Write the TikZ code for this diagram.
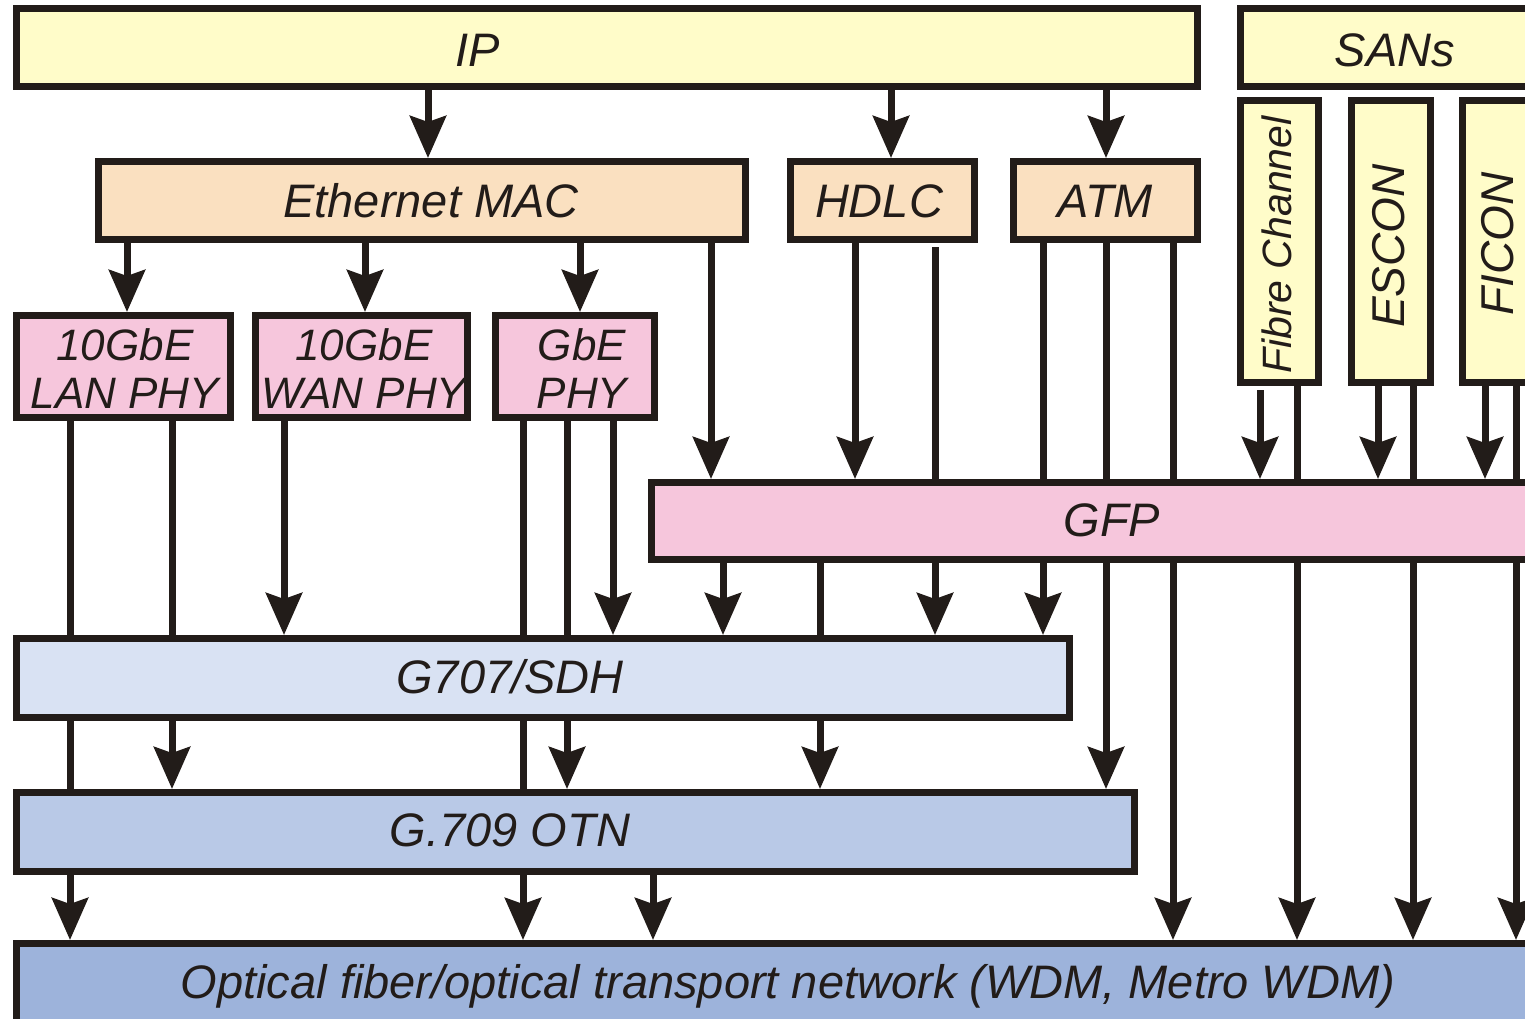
\documentclass[tikz,border=0pt]{standalone}
\usepackage{fontspec}
\setmainfont{Liberation Sans}
\usetikzlibrary{arrows.meta,backgrounds}
\definecolor{lc}{RGB}{34,28,25}
\definecolor{cyel}{RGB}{255,252,201}
\definecolor{cpeach}{RGB}{250,224,192}
\definecolor{cpink}{RGB}{246,198,220}
\definecolor{csdh}{RGB}{217,226,243}
\definecolor{cotn}{RGB}{185,201,231}
\definecolor{copt}{RGB}{157,179,219}
\newcommand\linkv[4]{\draw[#1] (#2.south -| #4,0) -- (#3.north -| #4,0);}
\begin{document}
\begin{tikzpicture}[x=0.5pt,y=-0.5pt,
  box/.style={draw=lc,line width=3.5pt,inner sep=0pt},
  lbl/.style={font=\fontsize{23.5}{24}\selectfont\itshape,inner sep=0pt,anchor=base,text=lc},
  plbl/.style={lbl,font=\fontsize{22}{24}\selectfont\itshape},
  rlbl/.style={inner sep=0pt,anchor=center,rotate=90,text=lc},
  ln/.style={draw=lc,line width=3.5pt},
  arr/.style={ln,-{Stealth[length=21pt,width=18pt,inset=3pt]}}]
\useasboundingbox (0,0) rectangle (1525,1018);
\clip (0,0) rectangle (1525,1018);
% boxes
\node[box,fill=cyel,minimum width=590.5pt,minimum height=39pt] (ip) at (607,47.5) {};
\node[box,fill=cyel,minimum width=158pt,minimum height=39pt] (sans) at (1398.5,47.5) {};
\node[box,fill=cpeach,minimum width=323.5pt,minimum height=39pt] (mac) at (422,200.5) {};
\node[box,fill=cpeach,minimum width=92pt,minimum height=39pt] (hdlc) at (882.5,200.5) {};
\node[box,fill=cpeach,minimum width=92pt,minimum height=39pt] (atm) at (1105.5,200.5) {};
\node[box,fill=cyel,minimum width=39pt,minimum height=141pt] (fc) at (1279.5,241.5) {};
\node[box,fill=cyel,minimum width=39.5pt,minimum height=141pt] (escon) at (1391,241.5) {};
\node[box,fill=cyel,minimum width=39.5pt,minimum height=141pt] (ficon) at (1502,241.5) {};
\node[box,fill=cpink,minimum width=107pt,minimum height=51pt] (lan) at (123.5,366.5) {};
\node[box,fill=cpink,minimum width=106pt,minimum height=51pt] (wan) at (361.5,366.5) {};
\node[box,fill=cpink,minimum width=79.5pt,minimum height=51pt] (gbe) at (575,366.5) {};
\node[box,fill=cpink,minimum width=452.5pt,minimum height=38.5pt] (gfp) at (1104,521) {};
\node[box,fill=csdh,minimum width=526.5pt,minimum height=39.5pt] (sdh) at (543,678) {};
\node[box,fill=cotn,minimum width=559pt,minimum height=39.5pt] (otn) at (575.5,832) {};
\node[box,fill=copt,minimum width=770pt,minimum height=46.5pt] (opt) at (786.5,990) {};
% labels
\node[lbl] (tip) at (478,66) {IP};
\node[lbl] (tsans) at (1395,66) {SANs};
\node[lbl] (tmac) at (431,217) {Ethernet MAC};
\node[lbl] (thdlc) at (879,217) {HDLC};
\node[lbl] (tatm) at (1105,217) {ATM};
\node[plbl] (tlan1) at (125,360) {10GbE};
\node[plbl] (tlan2) at (125,408) {LAN PHY};
\node[plbl] (twan1) at (364,360) {10GbE};
\node[plbl] (twan2) at (364,408) {WAN PHY};
\node[plbl] (tgbe1) at (582,360) {GbE};
\node[plbl] (tgbe2) at (582,408) {PHY};
\node[lbl] (tgfp) at (1112,536) {GFP};
\node[lbl] (tsdh) at (510,693) {G707/SDH};
\node[lbl] (totn) at (510,846) {G.709 OTN};
\node[lbl] (topt) at (788,998) {Optical fiber/optical transport network (WDM, Metro WDM)};
\node[rlbl,font=\fontsize{20.5}{22}\selectfont\itshape] (tfc) at (1277,245) {Fibre Channel};
\node[rlbl,font=\fontsize{23}{24}\selectfont\itshape] (tescon) at (1389,246) {ESCON};
\node[rlbl,font=\fontsize{23}{24}\selectfont\itshape] (tficon) at (1498,244) {FICON};
% connectors
\begin{scope}[on background layer]
\linkv{arr}{ip}{mac}{428}
\linkv{arr}{ip}{hdlc}{891}
\linkv{arr}{ip}{atm}{1106}
\linkv{arr}{mac}{lan}{127}
\linkv{arr}{mac}{wan}{365}
\linkv{arr}{mac}{gbe}{580}
\linkv{arr}{mac}{gfp}{711}
\linkv{arr}{hdlc}{gfp}{855}
\linkv{arr,shorten <=2pt}{hdlc}{sdh}{935}
\linkv{arr}{atm}{sdh}{1043}
\linkv{arr}{atm}{otn}{1106}
\linkv{arr}{atm}{opt}{1173}
\linkv{arr,shorten <=2pt}{fc}{gfp}{1260}
\linkv{arr}{fc}{opt}{1297}
\linkv{arr}{escon}{gfp}{1378}
\linkv{arr}{escon}{opt}{1413}
\linkv{arr}{ficon}{gfp}{1485}
\linkv{arr}{ficon}{opt}{1516}
\linkv{arr}{lan}{opt}{70}
\linkv{arr}{lan}{otn}{172}
\linkv{arr}{wan}{sdh}{284}
\linkv{arr}{gbe}{opt}{523}
\linkv{arr}{gbe}{otn}{567}
\linkv{arr}{gbe}{sdh}{613}
\linkv{arr}{gfp}{sdh}{723}
\linkv{arr}{gfp}{otn}{820}
\linkv{arr}{otn}{opt}{653}
\end{scope}
\end{tikzpicture}
\end{document}
